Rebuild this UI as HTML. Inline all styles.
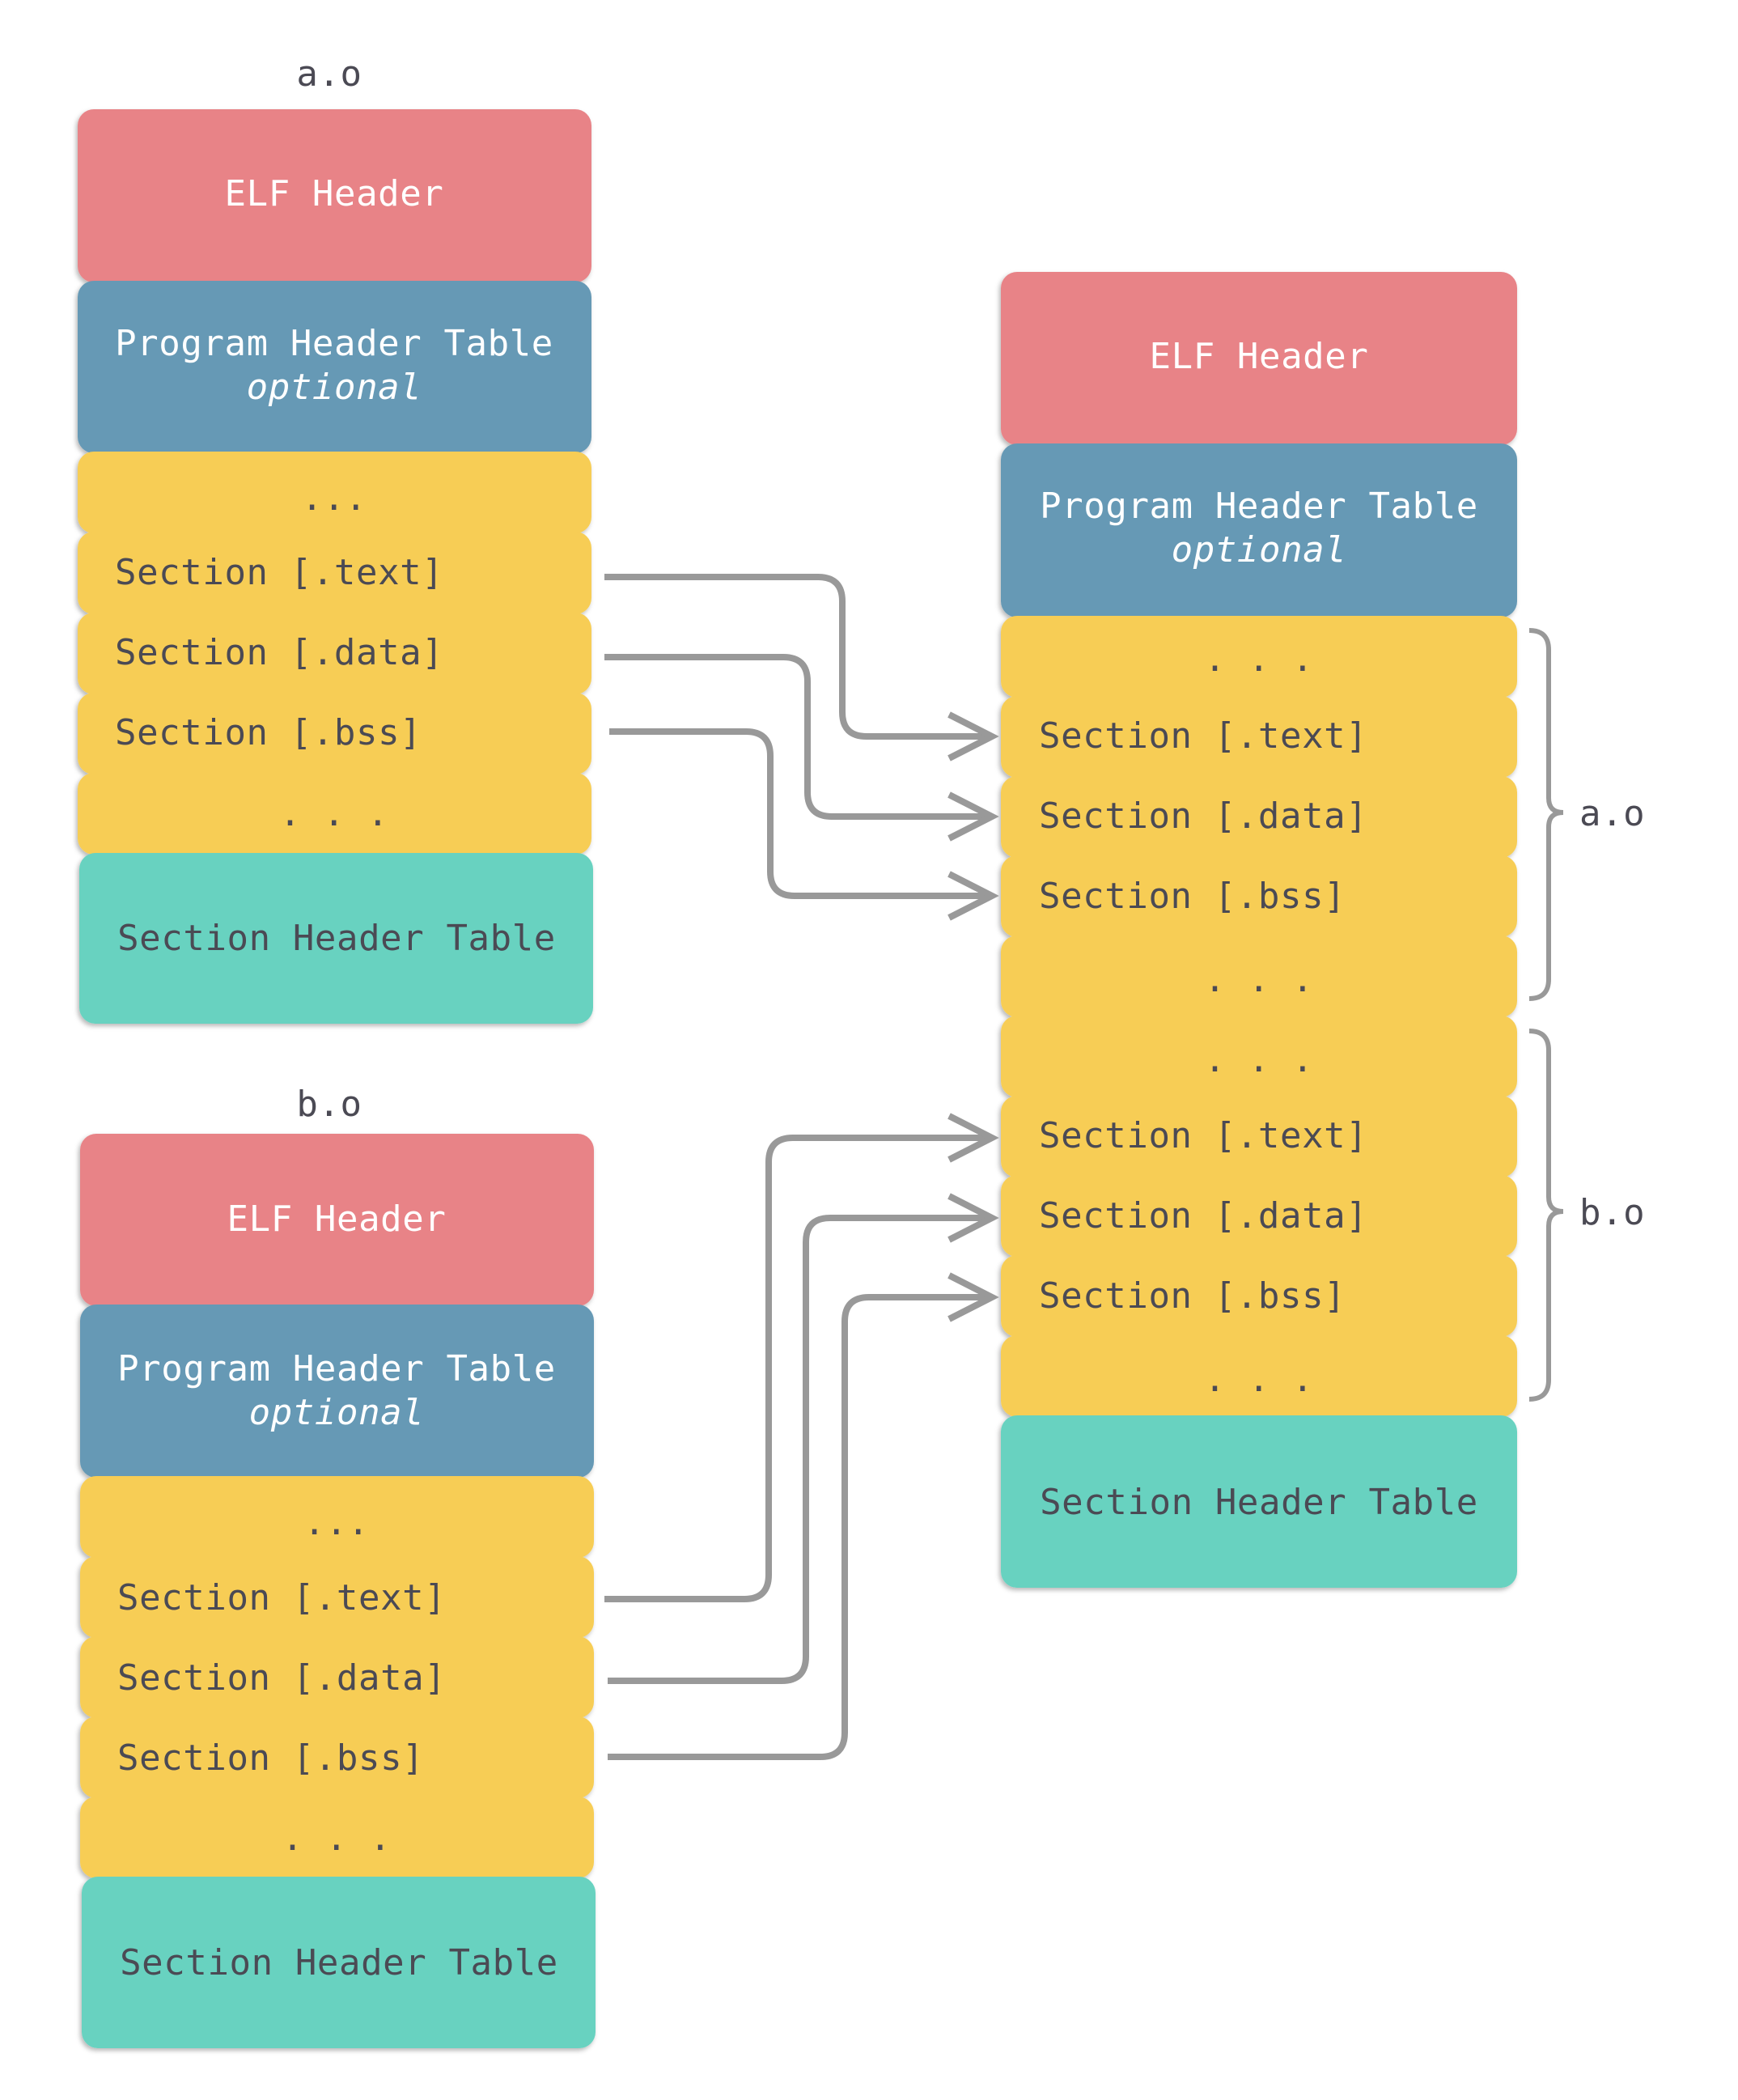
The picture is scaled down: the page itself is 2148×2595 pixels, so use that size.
<!DOCTYPE html>
<html><head><meta charset="utf-8"><style>
html,body{margin:0;padding:0;background:#fff;}
svg{display:block;}
text{font-family:"DejaVu Sans Mono","Liberation Mono",monospace;font-size:44px;letter-spacing:0.6px;}
.d{fill:#4b4a54;}
.w{fill:#fff;}
.c{text-anchor:middle;}
</style></head><body>
<svg width="2148" height="2595" viewBox="0 0 2148 2595" xmlns="http://www.w3.org/2000/svg">
<defs>
<filter id="sh" x="-10%" y="-20%" width="120%" height="150%">
<feDropShadow dx="-2" dy="3" stdDeviation="3" flood-color="#000" flood-opacity="0.28"/>
</filter>
</defs>
<g filter="url(#sh)">
<rect x="96" y="135" width="635" height="214" rx="20" fill="#e88387"/>
<rect x="96" y="347" width="635" height="213" rx="20" fill="#6699b5"/>
<rect x="96" y="558" width="635" height="101" rx="20" fill="#f7cd55"/>
<rect x="96" y="657" width="635" height="102" rx="20" fill="#f7cd55"/>
<rect x="96" y="757" width="635" height="101" rx="20" fill="#f7cd55"/>
<rect x="96" y="856" width="635" height="101" rx="20" fill="#f7cd55"/>
<rect x="96" y="955" width="635" height="101" rx="20" fill="#f7cd55"/>
<rect x="98" y="1054" width="635" height="211" rx="20" fill="#67d2c0"/>
<rect x="99" y="1401" width="635" height="213" rx="20" fill="#e88387"/>
<rect x="99" y="1612" width="635" height="214" rx="20" fill="#6699b5"/>
<rect x="99" y="1824" width="635" height="101" rx="20" fill="#f7cd55"/>
<rect x="99" y="1923" width="635" height="101" rx="20" fill="#f7cd55"/>
<rect x="99" y="2022" width="635" height="101" rx="20" fill="#f7cd55"/>
<rect x="99" y="2121" width="635" height="101" rx="20" fill="#f7cd55"/>
<rect x="99" y="2220" width="635" height="101" rx="20" fill="#f7cd55"/>
<rect x="101" y="2319" width="635" height="212" rx="20" fill="#67d2c0"/>
<rect x="1237" y="336" width="638" height="214" rx="20" fill="#e88387"/>
<rect x="1237" y="548" width="638" height="215" rx="20" fill="#6699b5"/>
<rect x="1237" y="761" width="638" height="101" rx="20" fill="#f7cd55"/>
<rect x="1237" y="860" width="638" height="101" rx="20" fill="#f7cd55"/>
<rect x="1237" y="959" width="638" height="101" rx="20" fill="#f7cd55"/>
<rect x="1237" y="1057" width="638" height="101" rx="20" fill="#f7cd55"/>
<rect x="1237" y="1156" width="638" height="101" rx="20" fill="#f7cd55"/>
<rect x="1237" y="1255" width="638" height="101" rx="20" fill="#f7cd55"/>
<rect x="1237" y="1354" width="638" height="101" rx="20" fill="#f7cd55"/>
<rect x="1237" y="1452" width="638" height="101" rx="20" fill="#f7cd55"/>
<rect x="1237" y="1551" width="638" height="101" rx="20" fill="#f7cd55"/>
<rect x="1237" y="1650" width="638" height="101" rx="20" fill="#f7cd55"/>
<rect x="1237" y="1749" width="638" height="213" rx="20" fill="#67d2c0"/>
</g>

<text x="407" y="106" class="d c">a.o</text>
<text x="407" y="1379" class="d c">b.o</text>

<text x="413" y="254" class="w c">ELF Header</text>
<text x="413" y="439" class="w c">Program Header Table</text>
<text x="413" y="493" class="w c" font-style="italic">optional</text>
<text x="413" y="630" class="d c">...</text>
<text x="142" y="722" class="d">Section [.text]</text>
<text x="142" y="821" class="d">Section [.data]</text>
<text x="142" y="920" class="d">Section [.bss]</text>
<text x="413" y="1020" class="d c">. . .</text>
<text x="416" y="1174" class="d c">Section Header Table</text>

<text x="416" y="1521" class="w c">ELF Header</text>
<text x="416" y="1706" class="w c">Program Header Table</text>
<text x="416" y="1760" class="w c" font-style="italic">optional</text>
<text x="416" y="1896" class="d c">...</text>
<text x="145" y="1989" class="d">Section [.text]</text>
<text x="145" y="2088" class="d">Section [.data]</text>
<text x="145" y="2187" class="d">Section [.bss]</text>
<text x="416" y="2286" class="d c">. . .</text>
<text x="419" y="2440" class="d c">Section Header Table</text>

<text x="1556" y="455" class="w c">ELF Header</text>
<text x="1556" y="640" class="w c">Program Header Table</text>
<text x="1556" y="694" class="w c" font-style="italic">optional</text>
<text x="1556" y="829" class="d c">. . .</text>
<text x="1284" y="924" class="d">Section [.text]</text>
<text x="1284" y="1023" class="d">Section [.data]</text>
<text x="1284" y="1122" class="d">Section [.bss]</text>
<text x="1556" y="1225" class="d c">. . .</text>
<text x="1556" y="1324" class="d c">. . .</text>
<text x="1284" y="1418" class="d">Section [.text]</text>
<text x="1284" y="1517" class="d">Section [.data]</text>
<text x="1284" y="1616" class="d">Section [.bss]</text>
<text x="1556" y="1719" class="d c">. . .</text>
<text x="1556" y="1871" class="d c">Section Header Table</text>

<g fill="none" stroke="#999" stroke-width="6">
<path d="M1890,779 Q1914,779 1914,803 L1914,986 Q1914,1004 1932,1004 Q1914,1004 1914,1022 L1914,1210 Q1914,1234 1890,1234"/>
<path d="M1890,1274 Q1914,1274 1914,1298 L1914,1479 Q1914,1497 1932,1497 Q1914,1497 1914,1515 L1914,1705 Q1914,1729 1890,1729"/>
</g>
<text x="1952" y="1020" class="d">a.o</text>
<text x="1952" y="1513" class="d">b.o</text>

<g fill="none" stroke="#999" stroke-width="8" stroke-linejoin="miter">
<path d="M747,713 L1011,713 Q1041,713 1041,743 L1041,880 Q1041,910 1071,910 L1226,910"/>
<path d="M747,812 L968,812 Q998,812 998,842 L998,979 Q998,1009 1028,1009 L1226,1009"/>
<path d="M753,904 L922,904 Q952,904 952,934 L952,1077 Q952,1107 982,1107 L1226,1107"/>
<path d="M747,1976 L920,1976 Q950,1976 950,1946 L950,1436 Q950,1406 980,1406 L1226,1406"/>
<path d="M751,2077 L966,2077 Q996,2077 996,2047 L996,1535 Q996,1505 1026,1505 L1226,1505"/>
<path d="M751,2171 L1014,2171 Q1044,2171 1044,2141 L1044,1633 Q1044,1603 1074,1603 L1226,1603"/>
<path d="M1173,883 L1226,910 L1173,937"/>
<path d="M1173,982 L1226,1009 L1173,1036"/>
<path d="M1173,1080 L1226,1107 L1173,1134"/>
<path d="M1173,1379 L1226,1406 L1173,1433"/>
<path d="M1173,1478 L1226,1505 L1173,1532"/>
<path d="M1173,1576 L1226,1603 L1173,1630"/>
</g>
</svg>
</body></html>
